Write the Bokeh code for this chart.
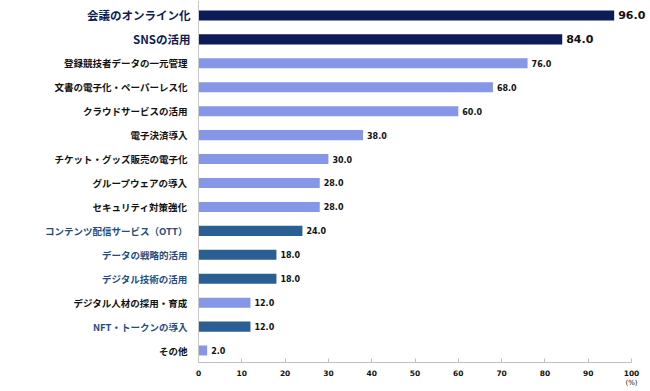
from bokeh.plotting import figure
from bokeh.models import ColumnDataSource, LabelSet, Span, Range1d, FixedTicker, LinearAxis
from bokeh.core.properties import value
from bokeh.embed import file_html
from bokeh.resources import INLINE

categories = ["会議のオンライン化", "SNSの活用", "登録競技者データの一元管理", "文書の電子化・ペーパーレス化",
              "クラウドサービスの活用", "電子決済導入", "チケット・グッズ販売の電子化", "グループウェアの導入",
              "セキュリティ対策強化", "コンテンツ配信サービス（OTT）", "データの戦略的活用", "デジタル技術の活用",
              "デジタル人材の採用・育成", "NFT・トークンの導入", "その他"]
values = [96.0, 84.0, 76.0, 68.0, 60.0, 38.0, 30.0, 28.0, 28.0, 24.0, 18.0, 18.0, 12.0, 12.0, 2.0]
groups = ["top", "top", "base", "base", "base", "base", "base", "base", "base",
          "new", "new", "new", "base", "new", "base"]
x_ticks = [0, 10, 20, 30, 40, 50, 60, 70, 80, 90, 100]
unit_label = "(%)"

bar_colors = {"top": "#0c1c56", "new": "#2a5f94", "base": "#8597e6"}
label_colors = {"top": "#0c1c56", "new": "#1f4e82", "base": "#111111"}
label_sizes = {"top": "11.5px", "new": "9.5px", "base": "9.5px"}
value_sizes = {"top": "11px", "new": "8px", "base": "8px"}
label_offsets = {"top": -8, "new": -11, "base": -11}

rows = list(range(len(categories)))
src = ColumnDataSource(dict(
    y=rows, v=values, cat=categories,
    vtxt=[f"{v:.1f}" for v in values],
    bc=[bar_colors[g] for g in groups],
    lc=[label_colors[g] for g in groups],
    ls=[label_sizes[g] for g in groups],
    vs=[value_sizes[g] for g in groups],
    lo=[label_offsets[g] for g in groups],
    zero=[0] * len(values),
))

px_per_unit = 4.33
x_start = -198 / px_per_unit
x_end = x_start + 648 / px_per_unit

p = figure(width=648, height=389, output_backend="svg", toolbar_location=None,
           x_range=Range1d(x_start, x_end), y_range=Range1d(14.5, -0.625),
           min_border_left=0, min_border_right=0, min_border_top=0, min_border_bottom=0)
p.outline_line_color = None
p.grid.visible = False
p.yaxis.visible = False
p.background_fill_color = "white"

p.hbar(y="y", left=0, right="v", height=0.42, fill_color="bc", line_color=None, source=src)

p.add_layout(Span(location=0, dimension="height", line_color="#c8c8c8", line_width=1))

xa = p.xaxis[0]
xa.ticker = FixedTicker(ticks=x_ticks)
xa.bounds = (0, 100)
xa.axis_line_color = "#c0c0c0"
xa.major_tick_line_color = "#c0c0c0"
xa.major_tick_in = 4
xa.major_tick_out = 0
xa.minor_tick_line_color = None
xa.major_label_text_font = "DejaVu Sans"
xa.major_label_text_font_style = "bold"
xa.major_label_text_font_size = "7.5px"
xa.major_label_text_color = "#111111"
xa.major_label_standoff = 7

ua = LinearAxis(ticker=FixedTicker(ticks=[100]), major_label_overrides={100: unit_label})
ua.axis_line_color = None
ua.major_tick_line_color = None
ua.minor_tick_line_color = None
ua.major_tick_in = 0
ua.major_tick_out = 0
ua.major_label_standoff = 0
ua.major_label_text_font = "DejaVu Sans"
ua.major_label_text_font_size = "7px"
ua.major_label_text_color = "#111111"
p.add_layout(ua, "below")

p.add_layout(LabelSet(x="zero", y="y", text="cat", source=src, x_offset="lo",
                      text_align="right", text_baseline="middle",
                      text_font=value("Noto Sans CJK JP"), text_font_style="bold",
                      text_font_size="ls", text_color="lc"))

p.add_layout(LabelSet(x="v", y="y", text="vtxt", source=src, x_offset=4,
                      text_align="left", text_baseline="middle",
                      text_font=value("DejaVu Sans"), text_font_style="bold",
                      text_font_size="vs", text_color=value("#111111")))

open("out.html", "w").write(file_html(p, INLINE))
